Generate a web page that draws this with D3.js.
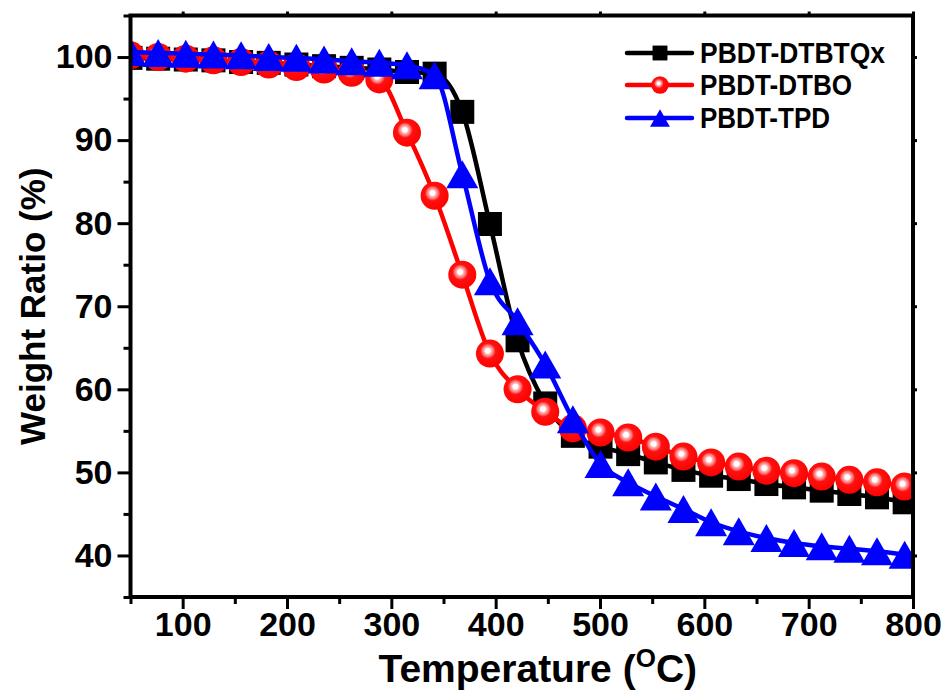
<!DOCTYPE html>
<html>
<head>
<meta charset="utf-8">
<script src="https://cdn.jsdelivr.net/npm/d3@7/dist/d3.min.js"></script>
<style>
  html, body { margin: 0; padding: 0; background: #fff; }
  svg { display: block; }
  text { font-family: "Liberation Sans", Arial, sans-serif; font-weight: bold; fill: #000; }
</style>
</head>
<body>
<svg id="chart" width="946" height="693"></svg>
<script>
// ---------------- data ----------------
const temperatures = [50, 76.5, 103, 129.5, 156, 182.5, 209, 235.5, 262, 288.5, 315, 341.5, 368, 394.5,
  421, 447.5, 474, 500.5, 527, 553.5, 580, 606.5, 633, 659.5, 686, 712.5, 739, 765.5, 792];

const dtbtqx = [99.9, 99.8, 99.7, 99.6, 99.4, 99.3, 99.1, 98.9, 98.7, 98.5, 98.2, 98.0, 93.4, 79.9,
  65.9, 58.3, 54.4, 53.1, 52.2, 51.2, 50.3, 49.6, 49.2, 48.6, 48.2, 47.8, 47.4, 47.0, 46.4];

const dtbo = [100.2, 100.0, 99.8, 99.6, 99.4, 99.1, 98.8, 98.5, 98.1, 97.3, 90.9, 83.3, 73.8, 64.3,
  60.0, 57.3, 55.3, 54.8, 54.2, 53.1, 51.9, 51.2, 50.7, 50.2, 49.9, 49.5, 49.1, 48.8, 48.3];

const tpd = [100.6, 100.5, 100.4, 100.3, 100.2, 100.0, 99.9, 99.7, 99.5, 99.3, 99.0, 97.8, 85.9, 73.0,
  68.2, 63.0, 56.4, 51.0, 48.8, 47.1, 45.6, 44.0, 42.9, 42.1, 41.5, 41.1, 40.8, 40.5, 40.1];

const seriesNames = ["PBDT-DTBTQx", "PBDT-DTBO", "PBDT-TPD"];
const xTicks = [100, 200, 300, 400, 500, 600, 700, 800];
const xMinorTicks = [50, 150, 250, 350, 450, 550, 650, 750];
const yTicks = [40, 50, 60, 70, 80, 90, 100];
const yMinorTicks = [35, 45, 55, 65, 75, 85, 95, 105];

// ---------------- layout ----------------
const svg = d3.select("#chart");
const L = 130.5, R = 913, T = 15.5, B = 597;
const x = d3.scaleLinear().domain([50, 800]).range([L, R]);
const y = d3.scaleLinear().domain([35, 105]).range([B, T]);

const defs = svg.append("defs");
defs.append("clipPath").attr("id", "plotclip")
  .append("rect").attr("x", L).attr("y", T).attr("width", R - L).attr("height", B - T);

const grad = defs.append("radialGradient").attr("id", "ball")
  .attr("cx", "0.44").attr("cy", "0.42").attr("r", "0.6")
  .attr("fx", "0.42").attr("fy", "0.40");
[["0%", "#ffffff"], ["14%", "#ffffff"], ["22%", "#ffb0b0"], ["34%", "#ff7070"], ["46%", "#ff1010"], ["100%", "#ff0000"]]
  .forEach(([o, c]) => grad.append("stop").attr("offset", o).attr("stop-color", c));

const series = [
  { name: seriesNames[0], values: dtbtqx, color: "#000000", marker: "square" },
  { name: seriesNames[1], values: dtbo, color: "#ff0000", marker: "circle" },
  { name: seriesNames[2], values: tpd, color: "#0000ff", marker: "triangle" }
];

function drawMarker(g, type, cx, cy, scale) {
  if (type === "square") {
    const s = 24 * scale;
    g.append("rect").attr("x", cx - s / 2).attr("y", cy - s / 2).attr("width", s).attr("height", s).attr("fill", "#000");
  } else if (type === "circle") {
    g.append("circle").attr("cx", cx).attr("cy", cy).attr("r", 14 * scale).attr("fill", "url(#ball)");
  } else {
    const w = 32 * scale, h = 28 * scale;
    g.append("path")
      .attr("d", `M${cx},${cy - h / 2}L${cx + w / 2},${cy + h / 2}L${cx - w / 2},${cy + h / 2}Z`)
      .attr("fill", "#0000ff");
  }
}

const plot = svg.append("g").attr("clip-path", "url(#plotclip)");
const line = d3.line().x((d, i) => x(temperatures[i])).y(d => y(d)).curve(d3.curveMonotoneX);

series.forEach(s => {
  const g = plot.append("g");
  g.append("path").datum(s.values).attr("d", line)
    .attr("fill", "none").attr("stroke", s.color).attr("stroke-width", 4.5).attr("stroke-linejoin", "round");
  s.values.forEach((v, i) => drawMarker(g, s.marker, x(temperatures[i]), y(v), 1));
});

// ---------------- axes ----------------
function styleAxis(g) {
  g.select(".domain").remove();
  g.selectAll(".tick line").attr("stroke", "#000").attr("stroke-width", 3);
  g.selectAll(".tick text").style("font-size", "34px").style("font-family", "'Liberation Sans', Arial, sans-serif").style("font-weight", "bold");
}

svg.append("g").attr("transform", `translate(0,${B})`)
  .call(d3.axisBottom(x).tickValues(xTicks).tickSize(12).tickPadding(3).tickFormat(d3.format("d")))
  .call(styleAxis);
svg.append("g").attr("transform", `translate(0,${B})`)
  .call(d3.axisBottom(x).tickValues(xMinorTicks).tickSize(7).tickFormat(""))
  .call(styleAxis);
svg.append("g").attr("transform", `translate(${L},0)`)
  .call(d3.axisLeft(y).tickValues(yTicks).tickSize(13).tickPadding(5).tickFormat(d3.format("d")))
  .call(styleAxis);
svg.append("g").attr("transform", `translate(${L},0)`)
  .call(d3.axisLeft(y).tickValues(yMinorTicks).tickSize(7).tickFormat(""))
  .call(styleAxis);
// small outward ticks on top and right
svg.append("g").attr("transform", `translate(0,${T})`)
  .call(d3.axisTop(x).tickValues(xTicks).tickSize(4).tickFormat(""))
  .call(styleAxis);
svg.append("g").attr("transform", `translate(${R},0)`)
  .call(d3.axisRight(y).tickValues(yTicks).tickSize(4).tickFormat(""))
  .call(styleAxis);

svg.append("rect").attr("x", L).attr("y", T).attr("width", R - L).attr("height", B - T)
  .attr("fill", "none").attr("stroke", "#000").attr("stroke-width", 4);

// ---------------- titles ----------------
const xt = svg.append("text").attr("x", (L + R) / 2 + 16).attr("y", 682).attr("text-anchor", "middle")
  .style("font-size", "39px");
xt.append("tspan").text("Temperature (");
xt.append("tspan").text("O").style("font-size", "26px").attr("dy", "-15");
xt.append("tspan").text("C)").attr("dy", "15");

svg.append("text").attr("transform", `translate(45,${(T + B) / 2}) rotate(-90)`)
  .attr("text-anchor", "middle").style("font-size", "35px").text("Weight Ratio (%)");

// ---------------- legend ----------------
const legendY = [53, 85, 118];
series.forEach((s, i) => {
  const g = svg.append("g");
  g.append("line").attr("x1", 627).attr("x2", 692).attr("y1", legendY[i]).attr("y2", legendY[i])
    .attr("stroke", s.color).attr("stroke-width", 4.5).attr("stroke-linecap", "round");
  drawMarker(g, s.marker, 660, legendY[i], 0.62);
  g.append("text").attr("x", 700).attr("y", legendY[i] + 10).style("font-size", "29px")
    .attr("textLength", [185, 152, 130][i]).attr("lengthAdjust", "spacingAndGlyphs")
    .text(s.name);
});
</script>
</body>
</html>
